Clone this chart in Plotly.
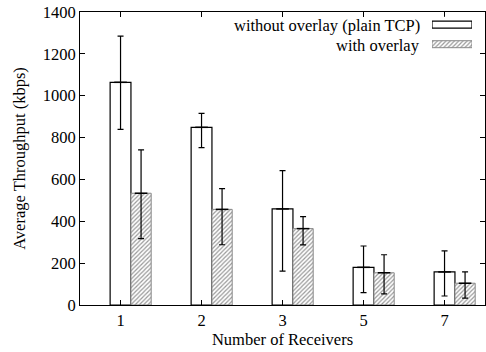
import numpy as np
import plotly.graph_objects as go

# Receivers on the x axis
receivers = ["1", "2", "3", "5", "7"]

# Average throughput (kbps) with error-bar extents
plain_tcp = [1064, 849, 459, 180, 158]
plain_hi = [1285, 916, 642, 282, 259]
plain_lo = [839, 752, 162, 59, 43]

overlay = [534, 457, 365, 154, 104]
overlay_hi = [741, 556, 422, 240, 158]
overlay_lo = [317, 288, 287, 53, 33]

y_ticks = [0, 200, 400, 600, 800, 1000, 1200, 1400]

FONT = "Times New Roman, Times, serif"
FS = 16.5
pos = np.arange(len(receivers))
W1, OFF1 = 0.257, -0.128
W2, OFF2 = 0.25, 0.129

HATCH = dict(shape="/", fgcolor="#333", bgcolor="white", size=3, solidity=0.4)

fig = go.Figure()

fig.add_trace(go.Bar(
    x=pos, y=plain_tcp, width=W1, offset=OFF1,
    marker=dict(color="white", line=dict(color="black", width=1.2)),
    showlegend=False,
))
fig.add_trace(go.Bar(
    x=pos, y=overlay, width=W2, offset=OFF2,
    marker=dict(color="white", line=dict(color="#888", width=1), pattern=HATCH),
    showlegend=False,
))


def err_trace(xc, vals, hi, lo):
    return go.Scatter(
        x=xc, y=vals, mode="markers",
        marker=dict(symbol="line-ew", size=9, line=dict(color="black", width=1.5)),
        error_y=dict(type="data", symmetric=False,
                     array=[h - v for h, v in zip(hi, vals)],
                     arrayminus=[v - l for v, l in zip(vals, lo)],
                     color="black", thickness=1.2, width=3),
        showlegend=False, hoverinfo="skip",
    )


fig.add_trace(err_trace(pos + OFF1 + W1 / 2, plain_tcp, plain_hi, plain_lo))
fig.add_trace(err_trace(pos + OFF2 + W2 / 2, overlay, overlay_hi, overlay_lo))

# Key swatches drawn on a small overlay axis, right of the key text
fig.add_trace(go.Bar(
    x=[1], y=[1], base=0, orientation="h", width=0.357, xaxis="x2", yaxis="y2",
    marker=dict(color="white", line=dict(color="black", width=1.2)),
    showlegend=False, hoverinfo="skip",
))
fig.add_trace(go.Bar(
    x=[1], y=[0], base=0, orientation="h", width=0.357, xaxis="x2", yaxis="y2",
    marker=dict(color="white", line=dict(color="#888", width=1), pattern=HATCH),
    showlegend=False, hoverinfo="skip",
))

PW, PH = 405, 293
fig.update_layout(
    width=486, height=352,
    margin=dict(l=80, r=1, t=12, b=47),
    paper_bgcolor="white", plot_bgcolor="white",
    font=dict(family=FONT, size=FS, color="black"),
    barmode="overlay",
    xaxis=dict(
        range=[-0.5, 4.5], tickvals=pos, ticktext=receivers,
        ticks="inside", ticklen=5, tickcolor="black",
        showline=True, linecolor="black", linewidth=1, mirror="ticks",
        showgrid=False, zeroline=False,
        title=dict(text="Number of Receivers", standoff=4, font=dict(family=FONT, size=FS)),
    ),
    yaxis=dict(
        range=[0, 1400], tickvals=y_ticks,
        ticks="inside", ticklen=5, tickcolor="black",
        showline=True, linecolor="black", linewidth=1, mirror="ticks",
        showgrid=False, zeroline=False,
        title=dict(text="Average Throughput (kbps)", standoff=12, font=dict(family=FONT, size=FS)),
    ),
    xaxis2=dict(domain=[(432 - 80) / PW, (472 - 80) / PW], range=[0, 1],
                anchor="y2", visible=False, fixedrange=True),
    yaxis2=dict(domain=[(305 - 52.04) / PH, (305 - 16.8) / PH], range=[-0.4, 1.4],
                anchor="x2", visible=False, fixedrange=True),
    annotations=[
        dict(text="without overlay (plain TCP)", x=(422 - 80) / PW, y=(305 - 25) / PH,
             xref="paper", yref="paper", xanchor="right", yanchor="middle",
             showarrow=False, font=dict(family=FONT, size=FS)),
        dict(text="with overlay", x=(422 - 80) / PW, y=(305 - 45) / PH,
             xref="paper", yref="paper", xanchor="right", yanchor="middle",
             showarrow=False, font=dict(family=FONT, size=FS)),
    ],
)

fig.write_html("out.html")
